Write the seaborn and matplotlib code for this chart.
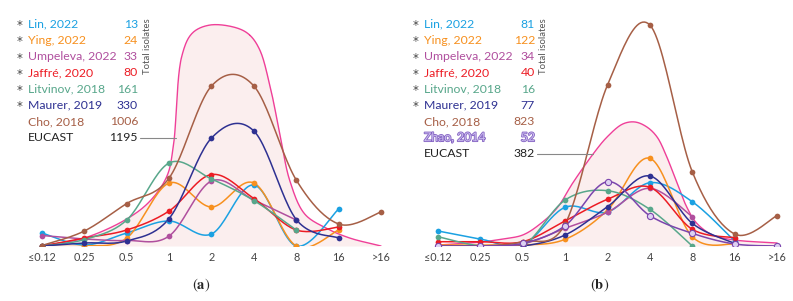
import numpy as np
import pandas as pd
import matplotlib
matplotlib.use('Agg')
import matplotlib.pyplot as plt
import matplotlib.patheffects as pe
import seaborn as sns

# MIC categories (mg/L)
mic_labels = ['≤0.12', '0.25', '0.5', '1', '2', '4', '8', '16', '>16']
nan = np.nan

# panel (a) - relative frequency (arbitrary units)
lin_a = [13, 1, 13, 25, 12, 61, 0, 37, nan]
ying_a = [0, 0, 8, 63, 39, 63, 0, 16, nan]
umpeleva_a = [10.5, 7, 5.5, 10, 65, 46, 26, nan, nan]
jaffre_a = [0, 8, 16, 35, 71.5, 47.5, 16, 19, nan]
litvinov_a = [0, 6.5, 26, 83, 67, 45.5, 16, nan, nan]
maurer_a = [0, 3, 5, 27.5, 108, 115, 26.5, 8, nan]
cho_a = [0.5, 15, 42.5, 68, 160, 160, 66, 22, 34]
# EUCAST outline (position on category axis, height)
eucast_a_x = [0, 1, 2, 2.55, 2.95, 3.1, 3.3, 3.55, 3.97, 4.6, 4.9, 5.14, 5.38, 5.61, 5.85, 6.2, 6.7, 7.26, 8]
eucast_a_y = [0, 8, 27, 45, 70, 100, 190, 213, 221, 218, 211, 196, 160, 113, 65, 32, 18, 8, 0]
totals_a = [13, 24, 33, 80, 161, 330, 1006]
eucast_total_a = 1195

# panel (b)
lin_b = [15, 7, 1, 38.7, 34, 63.3, 44.3, 5, nan]
ying_b = [1, 1, 1, 6.7, 36, 87.7, 9.3, 2, nan]
umpeleva_b = [0, 0, 2, 17.7, 33.7, 57.7, 29.3, nan, nan]
jaffre_b = [4.3, 4.3, 4.3, 25, 46.7, 58.7, 16.7, 8.3, nan]
litvinov_b = [9.3, 0, 0, 46, 55.3, 36.7, 0, nan, nan]
maurer_b = [0, 0, 0, 11, 39.3, 70, 22.7, 2.7, nan]
cho_b = [0, 0, 4.3, 22, 161, 221, 74.3, 12, 30.3]
zhao_b = [0, 0, 2.7, 20.3, 64.3, 30.3, 12.7, 2, 0]
eucast_b_x = [0, 1.01, 1.53, 2.0, 2.41, 2.81, 3.18, 3.66, 3.99, 4.36, 4.65, 4.93, 5.17, 5.4, 5.64, 5.87, 6.1, 6.48, 7.0, 8.0]
eucast_b_y = [1, 4, 7, 11, 22, 38, 63, 92, 109, 122, 124, 119, 109, 89, 63, 39, 23, 11, 6, 3]
totals_b = [81, 122, 34, 40, 16, 77, 823, 52]
eucast_total_b = 382

studies = ['Lin, 2022', 'Ying, 2022', 'Umpeleva, 2022', 'Jaffré, 2020',
           'Litvinov, 2018', 'Maurer, 2019', 'Cho, 2018', 'Zhao, 2014']
colors = ['#1ba1e2', '#f7901e', '#b04f9e', '#ec1c24', '#58a78b', '#2e3192', '#a65f46', '#7b45ad']
starred = [True, True, True, True, True, True, False, False]
pink = '#ef3f98'
pink_fill = '#fbeeee'

W, H = 793, 301
FONT = 'Lato'


def smooth(xs, ys, n=24, alpha=0.0, xscale=42.4):
    # Catmull-Rom (alpha=0 uniform, 0.5 centripetal)
    pts = np.column_stack([np.asarray(xs, float) * xscale, np.asarray(ys, float)])
    if alpha == 0:
        p = np.vstack([pts[0], pts, pts[-1]])
    else:
        p = np.vstack([2 * pts[0] - pts[1], pts, 2 * pts[-1] - pts[-2]])
    segs = []
    for i in range(1, len(p) - 2):
        p0, p1, p2, p3 = p[i - 1], p[i], p[i + 1], p[i + 2]
        if alpha == 0:
            t = np.linspace(0, 1, n)[:, None]
            seg = 0.5 * (2 * p1 + (-p0 + p2) * t + (2 * p0 - 5 * p1 + 4 * p2 - p3) * t ** 2
                         + (-p0 + 3 * p1 - 3 * p2 + p3) * t ** 3)
        else:
            d = lambda a, b: max(np.linalg.norm(b - a) ** alpha, 1e-6)
            t0 = 0.0
            t1 = t0 + d(p0, p1)
            t2 = t1 + d(p1, p2)
            t3 = t2 + d(p2, p3)
            t = np.linspace(t1, t2, n)[:, None]
            a1 = (t1 - t) / (t1 - t0) * p0 + (t - t0) / (t1 - t0) * p1
            a2 = (t2 - t) / (t2 - t1) * p1 + (t - t1) / (t2 - t1) * p2
            a3 = (t3 - t) / (t3 - t2) * p2 + (t - t2) / (t3 - t2) * p3
            b1 = (t2 - t) / (t2 - t0) * a1 + (t - t0) / (t2 - t0) * a2
            b2 = (t3 - t) / (t3 - t1) * a2 + (t - t1) / (t3 - t1) * a3
            seg = (t2 - t) / (t2 - t1) * b1 + (t - t1) / (t2 - t1) * b2
        segs.append(seg)
    out = np.vstack(segs)
    return out[:, 0] / xscale, out[:, 1]


def ftext(fig, px, py, s, **kw):
    fig.text(px / W, 1 - py / H, s, **kw)


def draw_panel(ax, series, eux, euy):
    sx, sy = smooth(eux, euy, alpha=0.5)
    ax.fill_between(sx, 0, sy, color=pink_fill, lw=0, zorder=1)
    sns.lineplot(x=sx, y=sy, ax=ax, color=pink, lw=1.0, sort=False, estimator=None, zorder=2)
    for vals, col, hollow in series:
        v = np.array(vals, dtype=float)
        idx = np.where(~np.isnan(v))[0]
        cx, cy = smooth(idx, v[idx])
        sns.lineplot(x=cx, y=cy, ax=ax, color=col, lw=1.1, sort=False, estimator=None, zorder=3)
        df = pd.DataFrame({'x': idx, 'y': v[idx]})
        if hollow:
            sns.scatterplot(data=df, x='x', y='y', ax=ax, s=20, color='#ddd2f2',
                            edgecolor=col, linewidth=0.8, zorder=4)
        else:
            sns.scatterplot(data=df, x='x', y='y', ax=ax, s=17, color=col, linewidth=0, zorder=4)
    ax.set_xlim(-0.3, 8.3)
    ax.set_ylim(0, 226)
    ax.set_xticks(range(len(mic_labels)))
    ax.set_xticklabels(mic_labels, fontsize=7.8, color='#444444', family=FONT)
    ax.set_yticks([])
    ax.tick_params(axis='x', length=0, pad=4)
    ax.set_xlabel('')
    ax.set_ylabel('')
    for s in ax.spines.values():
        s.set_visible(False)
    ax.patch.set_alpha(0)


sns.set_theme(style='white')
plt.rcParams['font.family'] = [FONT, 'DejaVu Sans']
fig = plt.figure(figsize=(W / 100, H / 100), dpi=100)

ax_a = fig.add_axes([29.3 / W, 55 / H, 364.4 / W, 226 / H])
ax_b = fig.add_axes([425.3 / W, 55 / H, 364.4 / W, 226 / H])

data_a = [lin_a, ying_a, umpeleva_a, jaffre_a, litvinov_a, maurer_a, cho_a]
data_b = [lin_b, ying_b, umpeleva_b, jaffre_b, litvinov_b, maurer_b, cho_b, zhao_b]
draw_panel(ax_a, [(d, colors[i], False) for i, d in enumerate(data_a)], eucast_a_x, eucast_a_y)
draw_panel(ax_b, [(d, colors[i], i == 7) for i, d in enumerate(data_b)], eucast_b_x, eucast_b_y)

# legends drawn as text tables
row0, step = 24.3, 16.2
fs = 8.8
for x0, num_r, tot, eu_tot, n_rows, line_end in [(20, 138, totals_a, eucast_total_a, 7, 176),
                                                  (416, 535, totals_b, eucast_total_b, 8, 593)]:
    for i in range(n_rows):
        y = row0 + i * step
        if starred[i]:
            ftext(fig, x0, y + 1.5, '*', fontsize=8.5, color='#444444', ha='center', va='center',
                  family='DejaVu Sans')
        kw = dict(fontsize=fs, color=colors[i], va='center', family=FONT)
        if i == 7:
            kw['color'] = '#cbbcef'
            kw['path_effects'] = [pe.withStroke(linewidth=1.2, foreground='#8463c2')]
        ftext(fig, x0 + 8, y, studies[i], ha='left', **kw)
        ftext(fig, num_r, y, str(tot[i]), ha='right', **kw)
    ye = row0 + n_rows * step
    ftext(fig, x0 + 8, ye, 'EUCAST', fontsize=fs, color='#222222', ha='left', va='center')
    ftext(fig, num_r, ye, str(eu_tot), fontsize=fs, color='#222222', ha='right', va='center')
    fig.add_artist(plt.Line2D([(num_r + 2) / W, line_end / W], [1 - ye / H, 1 - ye / H],
                              color='#888888', lw=0.8))
    ftext(fig, num_r + 9, 46, 'Total isolates', fontsize=6.8, color='#555555',
          rotation=90, ha='center', va='center')

plt.rcParams['mathtext.fontset'] = 'stix'
ftext(fig, 201, 285, r'($\mathbf{a}$)', fontsize=10.5, family='STIXGeneral', ha='center', va='center')
ftext(fig, 600, 285, r'($\mathbf{b}$)', fontsize=10.5, family='STIXGeneral', ha='center', va='center')

fig.savefig('out.png', dpi=100)
